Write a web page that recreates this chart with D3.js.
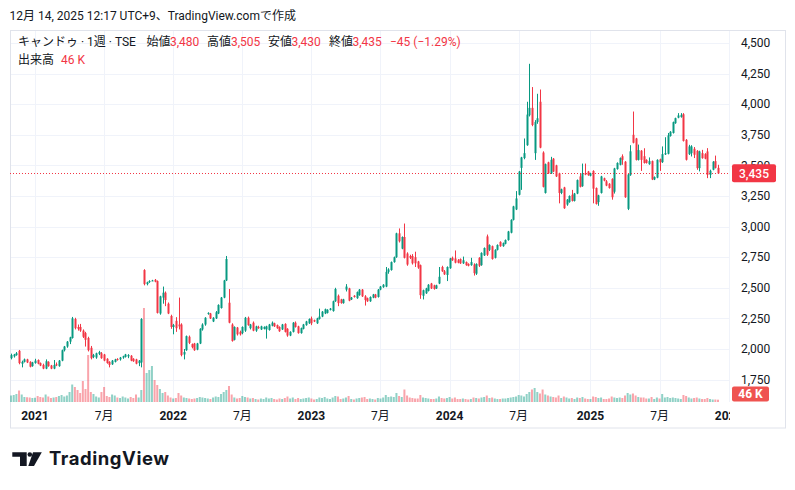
<!DOCTYPE html>
<html><head><meta charset="utf-8">
<script src="https://cdn.jsdelivr.net/npm/d3@7/dist/d3.min.js"></script>
<style>body{margin:0;background:#fff;}svg{display:block;font-family:Roboto,"Noto Sans CJK JP",sans-serif;}</style>
</head><body>
<script>
const firstWeek = "2020-11-02";
const opens = [1925,1940,1950,1985,1880,1895,1915,1895,1860,1885,1910,1885,1870,1840,1895,1865,1840,1875,1860,1905,1990,2020,2060,2090,2245,2180,2180,2150,2130,2090,2010,1935,1930,1960,1965,1955,1920,1895,1875,1895,1918,1915,1930,1935,1940,1945,1920,1915,1885,1890,2645,2530,2548,2558,2565,2555,2290,2420,2460,2370,2270,2180,2230,2200,2200,1955,1990,2100,2040,2045,1995,2045,2160,2200,2290,2290,2225,2250,2290,2335,2420,2560,2378,2200,2075,2175,2140,2130,2150,2255,2170,2215,2150,2180,2160,2165,2160,2155,2190,2210,2195,2180,2160,2205,2165,2110,2140,2215,2185,2130,2165,2195,2210,2250,2235,2210,2245,2265,2290,2295,2320,2310,2390,2435,2405,2375,2485,2495,2405,2435,2415,2440,2485,2430,2415,2390,2420,2445,2425,2485,2505,2510,2630,2645,2710,2750,2945,2820,2915,2780,2760,2760,2750,2715,2685,2435,2455,2475,2535,2520,2495,2535,2670,2635,2605,2660,2745,2740,2725,2735,2700,2710,2695,2685,2690,2615,2745,2685,2765,2920,2810,2840,2745,2810,2875,2840,2860,2890,2950,3055,3140,3260,3480,3560,3665,3910,3970,3600,3855,4020,3605,3275,3525,3435,3555,3500,3435,3275,3320,3180,3200,3260,3210,3270,3410,3330,3435,3450,3415,3455,3315,3200,3275,3395,3370,3350,3390,3285,3470,3505,3575,3530,3145,3420,3750,3720,3545,3620,3575,3545,3510,3535,3385,3400,3550,3527,3590,3595,3740,3765,3845,3890,3895,3918,3709,3592,3600,3636,3619,3478,3600,3592,3614,3423,3465,3535,3480];
const highs = [1962,1960,1975,1992,1905,1922,1920,1900,1895,1920,1915,1890,1880,1915,1900,1870,1910,1890,1910,1995,2025,2065,2100,2262,2255,2200,2205,2160,2140,2100,2025,1960,1970,1985,1975,1960,1925,1900,1910,1920,1925,1935,1945,1960,1958,1950,1925,1920,1910,2252,2652,2550,2562,2565,2572,2560,2435,2510,2470,2380,2280,2205,2260,2420,2210,2000,2110,2110,2045,2050,2050,2170,2210,2260,2300,2295,2260,2310,2365,2425,2565,2760,2490,2210,2185,2180,2150,2185,2262,2265,2205,2225,2190,2190,2190,2185,2190,2205,2225,2215,2200,2185,2205,2210,2170,2145,2220,2225,2190,2175,2205,2230,2250,2265,2240,2255,2330,2310,2330,2325,2335,2395,2500,2445,2410,2410,2530,2500,2425,2440,2470,2490,2490,2440,2420,2430,2450,2450,2490,2515,2530,2670,2660,2715,2755,2950,2985,2920,3025,2790,2770,2775,2795,2720,2690,2485,2500,2530,2540,2525,2525,2670,2680,2645,2675,2745,2755,2805,2735,2740,2755,2715,2700,2745,2700,2700,2750,2790,2830,2935,2855,2845,2815,2855,2880,2870,2895,2965,3060,3170,3290,3455,3570,3720,4020,4330,4140,3870,4085,4120,3615,3515,3530,3570,3560,3505,3440,3310,3325,3225,3255,3300,3275,3385,3435,3515,3515,3455,3440,3460,3320,3260,3415,3400,3380,3355,3395,3480,3525,3565,3590,3535,3430,3665,3940,3725,3670,3625,3640,3550,3565,3540,3410,3550,3555,3655,3730,3765,3780,3858,3890,3927,3927,3927,3715,3668,3665,3650,3625,3620,3627,3600,3641,3465,3535,3580,3505];
const lows = [1915,1930,1945,1875,1850,1890,1885,1850,1855,1880,1875,1860,1835,1835,1855,1835,1835,1860,1855,1900,1980,2010,2040,2085,2160,2150,2140,2090,2020,1980,1915,1925,1920,1950,1920,1900,1880,1850,1870,1890,1905,1905,1920,1930,1925,1900,1895,1875,1860,1850,2520,2520,2540,2555,2545,2290,2280,2370,2350,2285,2165,2120,2140,2160,1940,1915,1985,2040,2005,1985,1990,2040,2150,2190,2280,2245,2220,2245,2285,2330,2415,2555,2210,2060,2070,2110,2110,2120,2140,2190,2160,2145,2140,2165,2155,2160,2085,2150,2185,2180,2165,2140,2155,2135,2100,2105,2135,2175,2125,2125,2160,2190,2205,2195,2220,2205,2240,2260,2285,2290,2315,2305,2385,2350,2370,2370,2470,2390,2400,2420,2410,2435,2425,2355,2385,2385,2415,2415,2420,2480,2500,2505,2615,2640,2705,2745,2870,2815,2740,2680,2735,2690,2670,2655,2410,2405,2450,2470,2490,2485,2490,2530,2630,2605,2555,2655,2720,2700,2700,2695,2695,2680,2675,2680,2600,2605,2670,2680,2760,2760,2800,2730,2740,2805,2835,2835,2855,2885,2945,3050,3135,3255,3300,3550,3660,3900,3820,3545,3840,3640,3320,3270,3430,3430,3445,3405,3190,3265,3145,3170,3195,3205,3205,3265,3320,3325,3420,3415,3410,3190,3180,3170,3270,3370,3330,3310,3220,3270,3465,3500,3505,3235,3135,3415,3680,3540,3540,3455,3515,3515,3505,3380,3380,3395,3455,3520,3585,3590,3735,3760,3840,3885,3890,3695,3540,3585,3573,3560,3464,3451,3555,3550,3396,3396,3460,3475,3430];
const closes = [1950,1955,1965,1885,1895,1915,1890,1855,1890,1905,1880,1865,1840,1900,1860,1840,1870,1870,1905,1990,2020,2060,2095,2250,2170,2165,2150,2100,2075,1990,1925,1950,1965,1975,1925,1905,1885,1870,1905,1915,1910,1930,1940,1955,1950,1905,1900,1880,1905,2245,2530,2545,2555,2560,2550,2295,2430,2460,2400,2290,2180,2195,2170,2185,1950,1975,2105,2050,2015,1990,2045,2165,2200,2255,2295,2250,2255,2300,2360,2420,2560,2735,2215,2065,2180,2120,2120,2180,2255,2195,2200,2150,2185,2170,2185,2180,2185,2200,2215,2185,2170,2145,2200,2140,2110,2140,2215,2180,2130,2170,2200,2225,2245,2210,2225,2250,2265,2305,2325,2320,2330,2390,2490,2375,2375,2405,2510,2395,2420,2425,2465,2485,2430,2400,2390,2425,2445,2420,2485,2510,2525,2630,2650,2710,2750,2945,2880,2915,2745,2690,2745,2700,2700,2665,2440,2480,2495,2525,2495,2490,2520,2590,2635,2610,2670,2740,2725,2705,2705,2700,2725,2685,2680,2710,2620,2695,2680,2785,2825,2770,2850,2735,2810,2850,2840,2865,2890,2960,3055,3165,3230,3450,3565,3600,3915,3970,3830,3855,3885,3645,3325,3510,3435,3545,3450,3410,3275,3305,3150,3220,3250,3210,3270,3380,3325,3435,3425,3420,3435,3310,3185,3255,3410,3375,3335,3315,3240,3475,3520,3560,3545,3240,3425,3615,3685,3545,3625,3545,3520,3520,3535,3385,3405,3545,3525,3592,3600,3745,3775,3853,3886,3908,3913,3700,3546,3655,3655,3587,3478,3614,3559,3555,3423,3456,3530,3480,3435];
const volumes = [130,140,160,230,150,100,95,90,80,85,120,100,90,150,110,80,90,100,120,140,110,130,200,350,300,240,180,420,260,940,200,160,110,90,200,300,120,100,150,130,90,80,110,90,70,100,80,150,90,240,1880,580,640,720,440,340,260,180,200,130,90,70,80,180,130,90,80,70,60,70,80,100,90,80,70,60,90,110,100,160,200,240,320,150,90,70,80,120,100,90,70,80,60,50,70,60,90,70,80,60,50,70,60,80,110,70,90,60,80,60,70,80,90,70,50,60,90,80,100,70,60,90,120,110,60,70,90,120,60,50,70,80,90,100,60,70,60,50,80,70,90,140,100,110,100,180,120,100,250,130,90,80,70,70,140,90,80,70,60,60,70,110,80,70,80,100,70,90,60,60,70,60,50,60,90,80,70,90,100,130,80,90,70,60,60,70,70,80,90,100,110,140,130,110,160,200,250,280,200,170,250,150,130,110,100,90,130,80,110,90,70,80,60,90,80,100,70,60,60,110,100,80,90,60,60,70,110,90,80,90,80,130,180,150,170,130,100,90,90,70,70,100,60,90,70,160,90,100,80,90,80,70,60,140,120,90,70,80,90,70,60,60,80,60,50,50,46];
const priceTicks = [1750,2000,2250,2500,2750,3000,3250,3500,3750,4000,4250,4500];
const timeTickDates = ["2021-01-04","2021-07-05","2022-01-03","2022-07-04","2023-01-02","2023-07-03","2024-01-01","2024-07-01","2025-01-06","2025-07-07","2026-01-05"];
const timeTickLabels = ["2021","7月","2022","7月","2023","7月","2024","7月","2025","7月","2026"];
const lastPrice = 3435, lastVolumeLabel = "46 K";

const UP = "#089981", DOWN = "#F23645";
const parse = d3.timeParse("%Y-%m-%d");
const start = parse(firstWeek);
const data = closes.map((c, i) => ({
  date: d3.timeMonday.offset(start, i), o: opens[i], h: highs[i], l: lows[i], c: c, v: volumes[i]
}));

const W = 795, H = 490;
const plotL = 10, plotR = 730, plotT = 30, plotB = 402;
const svg = d3.select("body").append("svg").attr("width", W).attr("height", H);

const x = d3.scaleTime().domain([parse("2021-01-04"), parse("2025-12-08")]).range([35, 718]);
const y = d3.scaleLinear().domain([1750, 4500]).range([379.6, 43]);
const yv = d3.scaleLinear().domain([0, d3.max(volumes)]).range([plotB, plotB - 94]);

svg.append("defs").append("clipPath").attr("id", "plot")
  .append("rect").attr("x", plotL).attr("y", plotT).attr("width", plotR - plotL).attr("height", plotB - plotT);

// title
svg.append("text").attr("x", 9.5).attr("y", 19.5).attr("font-size", 12).attr("fill", "#131722")
  .text("12月 14, 2025 12:17 UTC+9、TradingView.comで作成");

// frame
svg.append("rect").attr("x", 10.5).attr("y", 30.5).attr("width", 775).attr("height", 397.5)
  .attr("fill", "none").attr("stroke", "#E0E3EB");

// grid
const grid = svg.append("g").attr("stroke", "#F0F3FA").attr("stroke-width", 1);
priceTicks.forEach(p => grid.append("line").attr("x1", plotL + 1).attr("x2", plotR)
  .attr("y1", Math.round(y(p)) + 0.5).attr("y2", Math.round(y(p)) + 0.5));
timeTickDates.forEach(d => {
  const xx = Math.round(x(parse(d))) + 0.5;
  if (xx < plotR) grid.append("line").attr("x1", xx).attr("x2", xx).attr("y1", plotT + 1).attr("y2", plotB);
});

const plot = svg.append("g").attr("clip-path", "url(#plot)");

// volume
plot.append("g").selectAll("rect").data(data).join("rect")
  .attr("x", d => x(d.date) - 1).attr("width", 2)
  .attr("y", d => yv(d.v)).attr("height", d => plotB - yv(d.v))
  .attr("fill", d => d.c >= d.o ? UP : DOWN).attr("fill-opacity", 0.45);

// candles
const cg = plot.append("g");
cg.selectAll("line").data(data).join("line")
  .attr("x1", d => Math.round(x(d.date)) + 0.5).attr("x2", d => Math.round(x(d.date)) + 0.5)
  .attr("y1", d => y(d.h)).attr("y2", d => y(d.l))
  .attr("stroke", d => d.c >= d.o ? UP : DOWN).attr("stroke-width", 1);
cg.selectAll("rect").data(data).join("rect")
  .attr("x", d => Math.round(x(d.date)) - 0.5).attr("width", 2)
  .attr("y", d => y(Math.max(d.o, d.c)))
  .attr("height", d => Math.max(1, Math.abs(y(d.o) - y(d.c))))
  .attr("fill", d => d.c >= d.o ? UP : DOWN);

// last price line
svg.append("line").attr("x1", plotL).attr("x2", plotR)
  .attr("y1", Math.round(y(lastPrice)) + 0.5).attr("y2", Math.round(y(lastPrice)) + 0.5)
  .attr("stroke", DOWN).attr("stroke-width", 1).attr("stroke-dasharray", "1,2");

// price axis labels (the 3,500 label sits partly under the last-price box, as in the original)
const pa = svg.append("g").attr("font-size", 12).attr("fill", "#131722");
priceTicks.forEach(p => pa.append("text").attr("x", 741).attr("y", y(p)).attr("dy", "0.35em")
  .text(d3.format(",")(p)));
// last price label
svg.append("rect").attr("x", 732).attr("y", y(lastPrice) - 9).attr("width", 44).attr("height", 18)
  .attr("rx", 2).attr("fill", DOWN);
svg.append("text").attr("x", 754).attr("y", y(lastPrice)).attr("dy", "0.36em").attr("text-anchor", "middle")
  .attr("font-size", 12).attr("font-weight", 500).attr("fill", "#fff").text(d3.format(",")(lastPrice));
// volume label
svg.append("rect").attr("x", 732).attr("y", 386.5).attr("width", 37).attr("height", 15)
  .attr("rx", 2).attr("fill", "#EF5350");
svg.append("text").attr("x", 750.5).attr("y", 394).attr("dy", "0.36em").attr("text-anchor", "middle")
  .attr("font-size", 12).attr("font-weight", 700).attr("fill", "#fff").text(lastVolumeLabel);

// time axis labels
svg.append("defs").append("clipPath").attr("id", "tclip")
  .append("rect").attr("x", plotL).attr("y", plotB).attr("width", plotR - plotL).attr("height", 26);
const ta = svg.append("g").attr("clip-path", "url(#tclip)").attr("font-size", 12).attr("fill", "#131722");
timeTickDates.forEach((d, i) => ta.append("text").attr("x", x(parse(d))).attr("y", 420)
  .attr("text-anchor", "middle").attr("font-weight", /^\d+$/.test(timeTickLabels[i]) ? 700 : 400)
  .text(timeTickLabels[i]));

// legend
const lg = svg.append("g").attr("font-size", 12);
const red = "#F23645", dark = "#131722";
[["キャンドゥ · 1週 · TSE", 18, dark], ["始値", 146.5, dark], ["3,480", 170, red], ["高値", 207, dark], ["3,505", 231, red],
 ["安値", 268, dark], ["3,430", 291.5, red], ["終値", 329, dark], ["3,435", 352.5, red], ["−45 (−1.29%)", 390, red]]
  .forEach(t => lg.append("text").attr("x", t[1]).attr("y", 46).attr("fill", t[2]).text(t[0]));
lg.append("text").attr("x", 18).attr("y", 63.5).attr("fill", dark).text("出来高");
lg.append("text").attr("x", 61).attr("y", 63.5).attr("fill", red).text("46 K");

// logo
const logo = svg.append("g").attr("fill", "#131722");
logo.append("path").attr("d", "M12.3,452.3H26.7V466H20V456.7H12.3Z");
logo.append("circle").attr("cx", 29.8).attr("cy", 454.5).attr("r", 2.3);
logo.append("path").attr("d", "M33,452.3H41.8L34,466H28.3Z");
logo.append("text").attr("x", 49).attr("y", 464.5).attr("font-family", "Inter, Roboto, sans-serif")
  .attr("font-size", 18.5).attr("font-weight", 700).attr("textLength", 120).attr("lengthAdjust", "spacing")
  .text("TradingView");
</script>
</body></html>
